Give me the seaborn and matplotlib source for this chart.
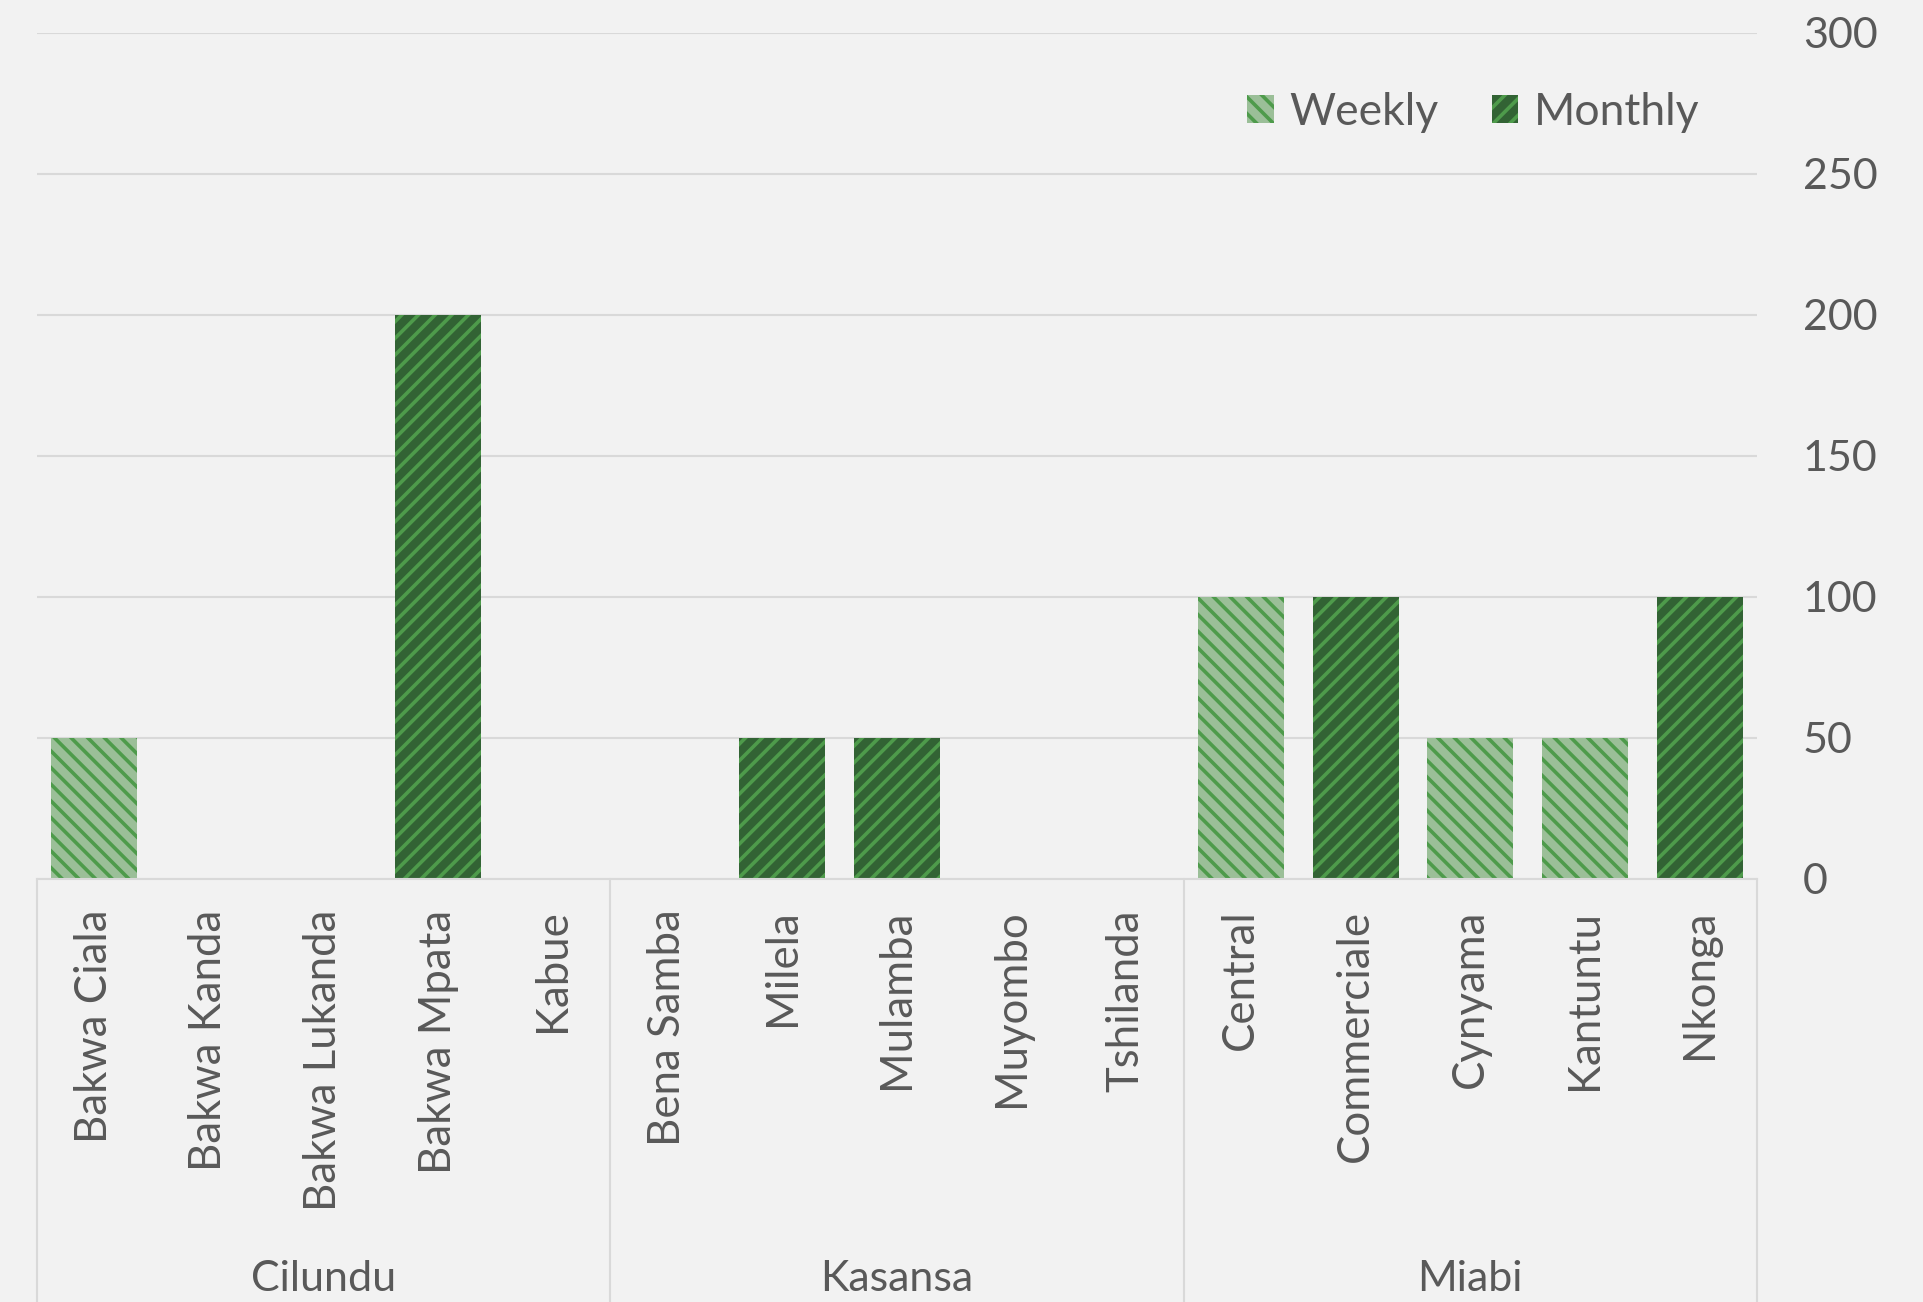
import matplotlib
matplotlib.use("Agg")
import matplotlib.pyplot as plt
import matplotlib.transforms as mtransforms
import seaborn as sns
import pandas as pd

# Sites, grouped by area
sites = ["Bakwa Ciala", "Bakwa Kanda", "Bakwa Lukanda", "Bakwa Mpata", "Kabue",
         "Bena Samba", "Milela", "Mulamba", "Muyombo", "Tshilanda",
         "Central", "Commerciale", "Cynyama", "Kantuntu", "Nkonga"]
areas = ["Cilundu", "Kasansa", "Miabi"]
sites_per_area = [5, 5, 5]

weekly = [50, 0, 0, 0, 0, 0, 0, 0, 0, 0, 100, 0, 50, 50, 0]
monthly = [0, 0, 0, 200, 0, 0, 50, 50, 0, 0, 0, 100, 0, 0, 100]

series = ["Weekly", "Monthly"]
face_colors = {"Weekly": "#95C591", "Monthly": "#2A6B2C"}
hatch_color = "#4E9B4B"
hatches = {"Weekly": "\\\\", "Monthly": "//"}

text_color = "#595959"
grid_color = "#D9D9D9"
bg = "#F2F2F2"
font = "Lato"

df = pd.DataFrame({
    "site": sites * 2,
    "frequency": ["Weekly"] * len(sites) + ["Monthly"] * len(sites),
    "value": weekly + monthly,
})

sns.set_theme(style="white")
plt.rcParams["font.family"] = [font, "DejaVu Sans"]
plt.rcParams["hatch.linewidth"] = 2.6

fig = plt.figure(figsize=(19.23, 13.02), dpi=100, facecolor=bg)
ax = fig.add_axes([0.0192, 0.3249, 0.8944, 0.6498])
ax.set_facecolor(bg)

sns.barplot(data=df, x="site", y="value", hue="frequency", hue_order=series,
            order=sites, dodge=False, width=0.75, palette=face_colors,
            ax=ax, legend=False)

for name, container in zip(series, ax.containers):
    for bar in container:
        bar.set_hatch(hatches[name])
        bar.set_edgecolor(hatch_color)
        bar.set_linewidth(0)

ax.set_ylim(0, 300)
ax.set_xlim(-0.5, len(sites) - 0.5)
ax.set_yticks(range(0, 301, 50))
ax.yaxis.tick_right()
ax.yaxis.grid(True, color=grid_color, linewidth=1.5)
ax.set_axisbelow(True)
ax.tick_params(axis="y", length=0, pad=33, labelsize=31, labelcolor=text_color)
ax.tick_params(axis="x", length=0, pad=22, labelsize=31.5, labelcolor=text_color)
ax.set_xticks(range(len(sites)))
ax.set_xticklabels(sites, rotation=90, va="top", ha="center")
ax.set_xlabel("")
ax.set_ylabel("")
for side in ["top", "left", "right"]:
    ax.spines[side].set_visible(False)
ax.spines["bottom"].set_color(grid_color)
ax.spines["bottom"].set_linewidth(1.5)

# Area separators and labels below the axis
trans = mtransforms.blended_transform_factory(ax.transData, ax.transAxes)
trans_fig = mtransforms.blended_transform_factory(ax.transData, fig.transFigure)
bounds = [-0.5]
for n in sites_per_area:
    bounds.append(bounds[-1] + n)
for b in bounds:
    ax.plot([b, b], [0, -0.52], color=grid_color, linewidth=1.5,
            transform=trans, clip_on=False)
for i, area in enumerate(areas):
    mid = (bounds[i] + bounds[i + 1]) / 2
    fig.text(mid, 0.018, area, transform=trans_fig, ha="center", va="center",
             fontsize=31, color=text_color)

leg = ax.legend(handles=list(ax.containers), labels=series, loc="upper right",
                bbox_to_anchor=(0.99, 0.978), ncol=2, frameon=False,
                fontsize=32, labelcolor=text_color, handlelength=0.6,
                handleheight=0.6, handletextpad=0.35, columnspacing=1.2)

fig.savefig("out.png", dpi=100, facecolor=bg)
